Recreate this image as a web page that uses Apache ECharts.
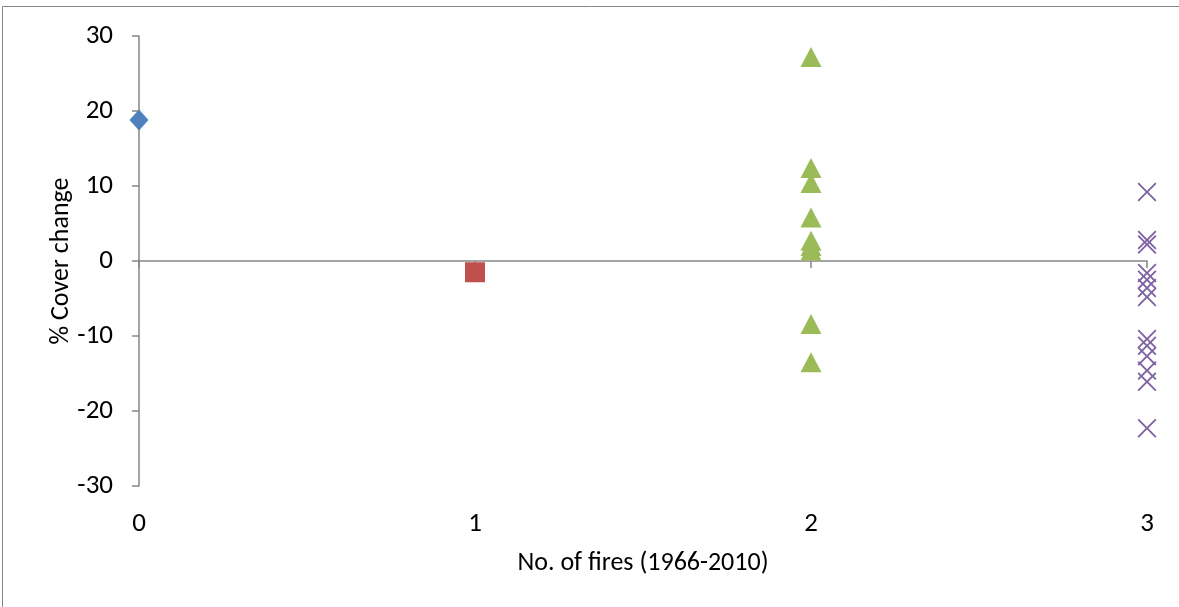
<!DOCTYPE html>
<html>
<head>
<meta charset="utf-8">
<script src="https://cdn.jsdelivr.net/npm/echarts@6/dist/echarts.min.js"></script>
<style>
  html, body { margin: 0; padding: 0; background: #fff; }
  #chart { width: 1179px; height: 607px; }
</style>
</head>
<body>
<div id="chart"></div>
<script>
// Number of fires per site group (x position of each group)
const fireCounts = [0, 1, 2, 3];

// % cover change for sites in each fire-count group
const coverNoFire = [18.8];
const coverOneFire = [-1.5];
const coverTwoFires = [27.2, 12.4, 10.4, 5.8, 2.7, 2.0, 1.4, -8.4, -13.5];
const coverThreeFires = [9.2, 2.8, 2.2, -1.6, -2.5, -3.6, -4.8, -10.4, -11.3, -12.7, -14.6, -16.1, -22.3];

// y axis ticks
const yMin = -30, yMax = 30, yStep = 10;

const FONT = 'Carlito, Lato, sans-serif';
const TICK_SIZE = 27;
const NAME_SIZE = 26;
const AXIS_GRAY = '#868686';

const toPoints = (x, vals) => vals.map(v => [x, v]);

const crossPath = 'path://M0,1L1,0L7,6L13,0L14,1L8,7L14,13L13,14L7,8L1,14L0,13L6,7Z';

const chart = echarts.init(document.getElementById('chart'));
chart.setOption({
  animation: false,
  backgroundColor: '#fff',
  grid: { left: 139, right: 32, top: 36, bottom: 121, containLabel: false },
  graphic: [{
    type: 'rect',
    shape: { x: 2.5, y: 6.5, width: 1300, height: 800 },
    style: { fill: 'none', stroke: AXIS_GRAY, lineWidth: 1 },
    silent: true, z: -1
  }],
  xAxis: [
    {
      // labels and title along the bottom of the plot
      type: 'value', min: fireCounts[0], max: fireCounts[fireCounts.length - 1], interval: 1,
      position: 'bottom',
      axisLine: { show: false, onZero: false },
      axisTick: { show: false },
      splitLine: { show: false },
      axisLabel: { margin: 25, fontSize: TICK_SIZE, color: '#000', fontFamily: FONT },
      name: 'No. of fires (1966-2010)',
      nameLocation: 'middle', nameGap: 64, nameMoveOverlap: false,
      nameTextStyle: { fontSize: NAME_SIZE, color: '#000', fontFamily: FONT }
    },
    {
      // axis line with ticks running through zero
      type: 'value', min: fireCounts[0], max: fireCounts[fireCounts.length - 1], interval: 1,
      position: 'bottom',
      axisLine: { show: true, onZero: true, lineStyle: { color: AXIS_GRAY, width: 1.5 } },
      axisTick: { show: true, inside: false, length: 7, lineStyle: { color: AXIS_GRAY, width: 1.5 } },
      axisLabel: { show: false },
      splitLine: { show: false }
    }
  ],
  yAxis: {
    type: 'value', min: yMin, max: yMax, interval: yStep,
    axisLine: { show: true, onZero: false, lineStyle: { color: AXIS_GRAY, width: 1.5 } },
    axisTick: { show: true, length: 7, lineStyle: { color: AXIS_GRAY, width: 1.5 } },
    splitLine: { show: false },
    axisLabel: { margin: 26, fontSize: TICK_SIZE, color: '#000', fontFamily: FONT },
    name: '% Cover change',
    nameLocation: 'middle', nameGap: 65, nameRotate: 90, nameMoveOverlap: false,
    nameTextStyle: { fontSize: NAME_SIZE, color: '#000', fontFamily: FONT }
  },
  series: [
    {
      type: 'scatter', xAxisIndex: 1, data: toPoints(fireCounts[0], coverNoFire),
      symbol: 'diamond', symbolSize: [19, 21],
      itemStyle: { color: '#4F81BD', opacity: 1 }
    },
    {
      type: 'scatter', xAxisIndex: 1, data: toPoints(fireCounts[1], coverOneFire),
      symbol: 'rect', symbolSize: 20,
      itemStyle: { color: '#C0504D', opacity: 1 }
    },
    {
      type: 'scatter', xAxisIndex: 1, data: toPoints(fireCounts[2], coverTwoFires),
      symbol: 'triangle', symbolSize: [21, 20],
      itemStyle: { color: '#9BBB59', opacity: 1 }
    },
    {
      type: 'scatter', xAxisIndex: 1, data: toPoints(fireCounts[3], coverThreeFires),
      symbol: crossPath, symbolSize: 19,
      itemStyle: { color: '#8064A2', opacity: 1 }
    }
  ]
});
</script>
</body>
</html>
